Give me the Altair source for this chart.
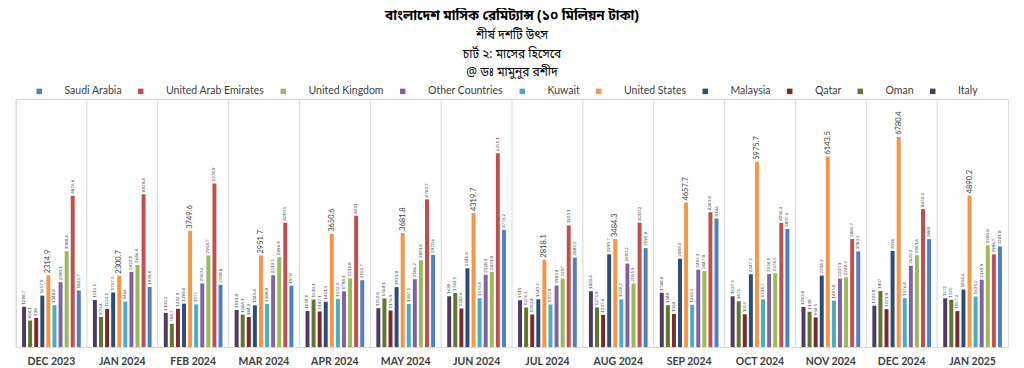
import altair as alt
import pandas as pd

months = ["DEC 2023", "JAN 2024", "FEB 2024", "MAR 2024", "APR 2024", "MAY 2024",
          "JUN 2024", "JUL 2024", "AUG 2024", "SEP 2024", "OCT 2024", "NOV 2024",
          "DEC 2024", "JAN 2025"]

countries = ["Saudi Arabia", "United Arab Emirates", "United Kingdom", "Other Countries",
             "Kuwait", "United States", "Malaysia", "Qatar", "Oman", "Italy"]

colors = ["#4f81bd", "#c0504d", "#9bbb59", "#8064a2", "#4bacc6",
          "#f79646", "#2c4d75", "#772c2a", "#5f7530", "#4d3b62"]

saudi_arabia = [1822.7, 1939.4, 2008.8, 1978, 2155.7, 2970.6, 3776.2, 2885.2, 3190.8, 4146, 3807.3, 3083.5, 3480, 3241.8]
uae = [4876.6, 4929.4, 5274.9, 4010.5, 4231, 4760.7, 6251.1, 3923.1, 4010.2, 4343.4, 4006.3, 3485.7, 4450.2, 2986.7]
united_kingdom = [3088.4, 2646.4, 2954.7, 2896.9, 2211.8, 2801.4, 2421.8, 2207, 2051.9, 2447.8, 2374.5, 2249.3, 2961.4, 3280.8]
other_countries = [2090.1, 2422.9, 2050.6, 2313.5, 1794.1, 2186.2, 2328.3, 1983.4, 2690.2, 2495.3, 2354.9, 2205.1, 2620.2, 2169.9]
kuwait = [1348.8, 1466, 1377, 1388.8, 1552.3, 1387.1, 1570.4, 1372.4, 1539.2, 1360.5, 1534.7, 1495.4, 1576.4, 1631.2]
united_states = [2314.9, 2300.7, 3749.6, 2951.7, 3650.6, 3681.8, 4319.7, 2818.1, 3484.3, 4657.7, 5975.7, 6143.5, 6780.4, 4890.2]
malaysia = [1657.9, 1757.5, 1398.4, 1343.4, 1461.5, 1931.8, 2541.4, 1540.2, 2990.7, 2848.5, 2347.2, 2304.3, 3096, 1854.6]
qatar = [938, 1225.1, 1232.9, 964.3, 1147.1, 1176.9, 1242.6, 1050.4, 1037.4, 1064, 1055, 954.5, 1221.8, 1157.3]
oman = [854.1, 970.4, 744.7, 1044.1, 1530.1, 1568.1, 1743.1, 1276.3, 1275.9, 1348, 1475, 1138, 1807, 1525]
italy = [1298.7, 1515.1, 1100.2, 1193.8, 1159.9, 1252.8, 1638, 1510, 1800.4, 1748.4, 1637.3, 1293.8, 1332.9, 1572]

series = [saudi_arabia, uae, united_kingdom, other_countries, kuwait,
          united_states, malaysia, qatar, oman, italy]

title_main = "বাংলাদেশ মাসিক রেমিট্যান্স (১০ মিলিয়ন টাকা)"
title_sub = ["শীর্ষ দশটি উৎস", "চার্ট ২: মাসের হিসেবে", "@ ডঃ মামুনুর রশীদ"]

rows = []
for c, vals in zip(countries, series):
    for m, v in zip(months, vals):
        rows.append({"month": m, "country": c, "value": v, "label": f"{v:g}",
                     "is_us": c == "United States"})
df = pd.DataFrame(rows)
grid_df = pd.DataFrame({"month": months})

bar_order = list(reversed(countries))
FONT = "Lato"
BN_FONT = "Noto Sans Bengali, Lohit Bengali, Noto Sans, sans-serif"

x_axis = alt.Axis(title=None, labelAngle=0, ticks=False, domain=False,
                  grid=False, bandPosition=0.5, labelAlign="center",
                  labelFont=FONT, labelFontWeight="bold",
                  labelFontSize=10.5, labelColor="#404040",
                  labelPadding=9)
x_enc = alt.X("month:N", sort=months,
              scale=alt.Scale(paddingInner=0, paddingOuter=0), axis=x_axis)
xo_enc = alt.XOffset("country:N", sort=bar_order,
                     scale=alt.Scale(paddingInner=0.35, paddingOuter=1))
y_enc = alt.Y("value:Q", scale=alt.Scale(domain=[0, 8000], nice=False), axis=None)

base = alt.Chart(df).encode(x=x_enc, xOffset=xo_enc, y=y_enc)

grid = alt.Chart(grid_df).mark_rule(color="#d9d9d9", strokeWidth=1).encode(
    x=alt.X("month:N", sort=months, bandPosition=0, axis=x_axis)
)

bars = base.mark_bar().encode(
    color=alt.Color("country:N",
                    scale=alt.Scale(domain=countries, range=colors),
                    legend=alt.Legend(title=None, orient="none", legendX=18, legendY=-13,
                                      direction="horizontal", columns=10,
                                      symbolType="square", symbolSize=30,
                                      symbolStrokeWidth=0,
                                      labelFont=FONT, labelFontSize=10.5,
                                      labelColor="#404040", labelOffset=20,
                                      columnPadding=13.5))
)

small_labels = base.transform_filter("!datum.is_us").mark_text(
    angle=270, align="left", baseline="middle", dx=2, fontSize=4.5,
    color="#404040", font=FONT
).encode(text="label:N")

us_labels = base.transform_filter("datum.is_us").mark_text(
    angle=270, align="left", baseline="middle", dx=2, fontSize=7.5,
    color="#404040", font=FONT
).encode(text="label:N")

chart = alt.layer(bars, grid, small_labels, us_labels).properties(
    width=992, height=248,
    autosize=alt.AutoSizeParams(type="none"),
    padding={"left": 8, "top": 91, "right": 8, "bottom": 22},
    title=alt.TitleParams(text=title_main, subtitle=title_sub, anchor="middle",
                          font=BN_FONT, fontSize=13.5, fontWeight="bold", color="#000000",
                          subtitleFont=BN_FONT, subtitleFontSize=12,
                          subtitleColor="#000000", subtitleLineHeight=18.5,
                          subtitlePadding=8, offset=8)
).configure_view(stroke="#d9d9d9", strokeWidth=1)

chart.save("out.html", embed_options={"renderer": "svg", "actions": False})
